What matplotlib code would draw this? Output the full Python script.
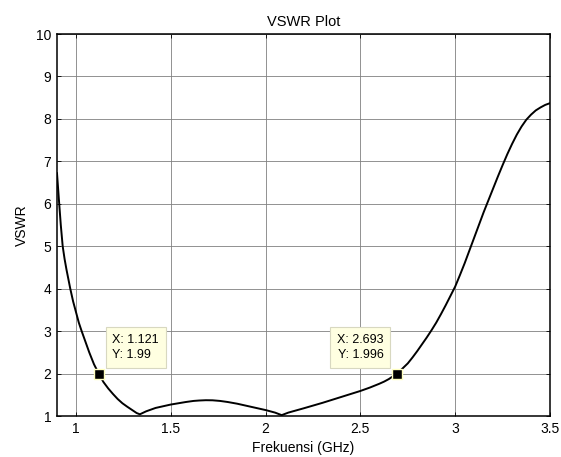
import matplotlib
matplotlib.use("Agg")
import matplotlib.pyplot as plt

plt.rcParams['font.family'] = ['Liberation Sans', 'DejaVu Sans']

freq = [0.900, 0.910, 0.920, 0.930, 0.940, 0.950, 0.970, 0.985, 1.000, 1.015,
        1.030, 1.050, 1.070, 1.095, 1.121, 1.145, 1.170, 1.195, 1.220, 1.245,
        1.270, 1.290, 1.310, 1.320, 1.337, 1.370, 1.420, 1.460, 1.500, 1.540,
        1.580, 1.620, 1.650, 1.685, 1.720, 1.760, 1.800, 1.850, 1.900, 1.950,
        2.000, 2.050, 2.085, 2.120, 2.160, 2.200, 2.250, 2.300, 2.350, 2.400,
        2.450, 2.500, 2.550, 2.600, 2.625, 2.650, 2.670, 2.693, 2.720, 2.750,
        2.775, 2.800, 2.825, 2.850, 2.875, 2.900, 2.925, 2.950, 2.975, 3.000,
        3.025, 3.050, 3.075, 3.100, 3.125, 3.150, 3.175, 3.200, 3.225, 3.250,
        3.275, 3.300, 3.325, 3.350, 3.375, 3.400, 3.425, 3.450, 3.475, 3.500]
vswr = [6.72, 6.10, 5.50, 5.00, 4.70, 4.45, 4.00, 3.70, 3.45, 3.20,
        3.00, 2.75, 2.50, 2.22, 1.99, 1.80, 1.65, 1.52, 1.40, 1.30,
        1.22, 1.16, 1.10, 1.07, 1.04, 1.11, 1.19, 1.23, 1.27, 1.30,
        1.33, 1.355, 1.365, 1.372, 1.37, 1.355, 1.33, 1.29, 1.24, 1.19,
        1.14, 1.08, 1.02, 1.08, 1.13, 1.18, 1.245, 1.31, 1.38, 1.45,
        1.52, 1.59, 1.67, 1.76, 1.81, 1.87, 1.93, 1.996, 2.11, 2.24,
        2.38, 2.53, 2.69, 2.85, 3.02, 3.20, 3.40, 3.61, 3.83, 4.05,
        4.32, 4.60, 4.90, 5.20, 5.50, 5.80, 6.08, 6.36, 6.64, 6.91,
        7.17, 7.41, 7.63, 7.82, 7.98, 8.10, 8.20, 8.27, 8.33, 8.37]

tips_x = [1.121, 2.693]
tips_y = [1.99, 1.996]
tips_text = ["X: 1.121\nY: 1.99", "X: 2.693\nY: 1.996"]

xticks = [1, 1.5, 2, 2.5, 3, 3.5]
xticklabels = ["1", "1.5", "2", "2.5", "3", "3.5"]
yticks = list(range(1, 11))

fig = plt.figure(figsize=(5.61, 4.57), dpi=100)
ax = fig.add_axes([57/561, 41/457, 493/561, 382/457])

ax.plot(freq, vswr, color='black', lw=1.4, zorder=3)
ax.set_xlim(0.9, 3.5)
ax.set_ylim(1, 10)
ax.set_xticks(xticks)
ax.set_xticklabels(xticklabels)
ax.set_yticks(yticks)
ax.grid(True, color='#808080', lw=0.6, ls='-')
ax.tick_params(direction='in', top=True, right=True, length=3, width=0.6,
               labelsize=10, pad=4)
for s in ax.spines.values():
    s.set_linewidth(1.1)
    s.set_color('black')

ax.set_title("VSWR Plot", fontsize=10.5, pad=6)
ax.set_xlabel("Frekuensi (GHz)", fontsize=10, labelpad=4)
ax.set_ylabel("VSWR", fontsize=10, labelpad=5)

ax.plot(tips_x, tips_y, ls='none', marker='s', ms=7, mfc='black',
        mec='#ffffc0', mew=1.0, zorder=5)

offsets = [(13.5, 12.5, 'left'), (-13.5, 12.5, 'right')]
for x, y, t, (dx, dy, ha) in zip(tips_x, tips_y, tips_text, offsets):
    ax.annotate(t, xy=(x, y), xytext=(dx, dy), textcoords='offset pixels',
                ha=ha, va='bottom', fontsize=9, linespacing=1.4,
                bbox=dict(boxstyle='square,pad=0.52', fc='#ffffe1',
                          ec='#d8d8c0', lw=0.8), zorder=6)

fig.savefig("out.png", dpi=100)
